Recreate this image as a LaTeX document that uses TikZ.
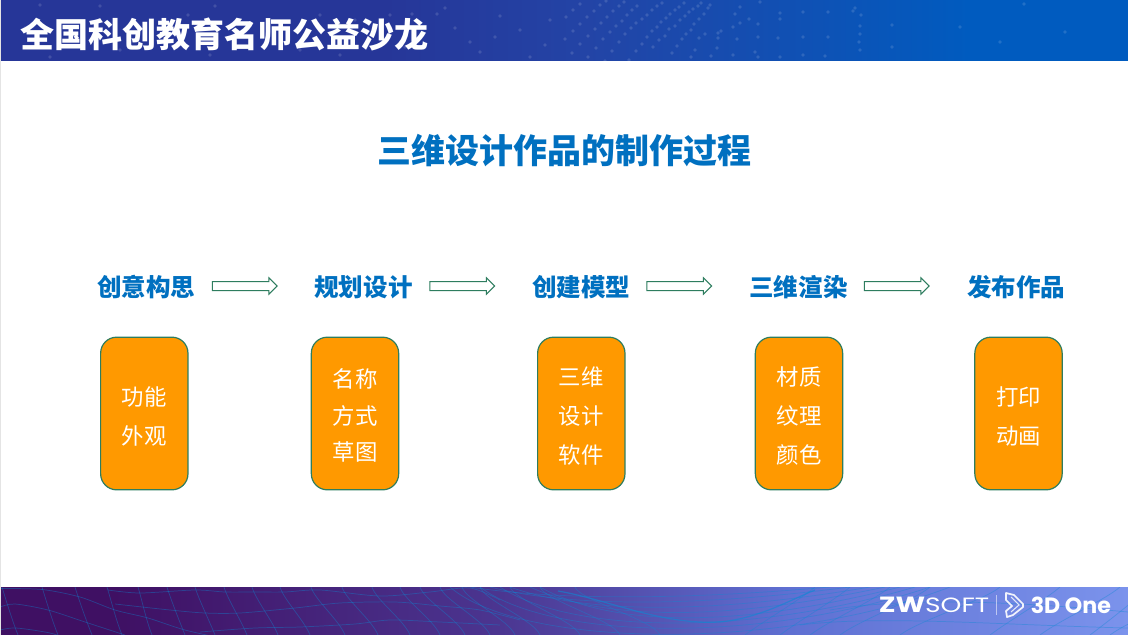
\documentclass[tikz,border=0pt]{standalone}
\usepackage{fontspec}
\usetikzlibrary{shapes.arrows}
\setmainfont{Noto Sans CJK SC}
\newfontfamily\logofont[FakeStretch=1.28]{Poppins}
\newfontfamily\logofontb{Poppins}
\definecolor{hdrA}{HTML}{263698}
\definecolor{hdrB}{HTML}{2344A6}
\definecolor{hdrC}{HTML}{005BBF}
\definecolor{ftA}{HTML}{3F1063}
\definecolor{ftB}{HTML}{4B3590}
\definecolor{ftD}{HTML}{5F70D2}
\definecolor{ftC}{HTML}{7B93EC}
\definecolor{ttl}{HTML}{0070C0}
\definecolor{edge}{HTML}{2E7D5F}
\definecolor{org}{HTML}{FF9900}
\definecolor{sideg}{HTML}{E4E4E4}
\pgfdeclarehorizontalshading{hdrshade}{100bp}{
  color(0bp)=(hdrA); color(42bp)=(hdrA); color(51bp)=(hdrB); color(68bp)=(hdrC); color(100bp)=(hdrC)}
\pgfdeclarehorizontalshading{ftshade}{100bp}{
  color(0bp)=(ftA); color(30bp)=(ftA); color(47bp)=(ftB); color(60bp)=(ftD); color(75bp)=(ftC); color(100bp)=(ftC)}
\tikzset{
  x=0.75pt,y=-0.75pt,
  hdrtitle/.style={font=\bfseries\fontsize{25.5}{30}\selectfont,text=white,inner sep=0pt},
  maintitle/.style={font=\bfseries\fontsize{25.5}{30}\selectfont,text=ttl,inner sep=0pt},
  steplabel/.style={font=\bfseries\fontsize{18.4}{22}\selectfont,text=ttl,inner sep=0pt},
  cardbox/.style={draw=edge,line width=0.9pt,fill=org,rounded corners=12pt,
    minimum width=65.5pt,minimum height=114.5pt,inner sep=0pt},
  cardtext/.style={text=white,inner sep=0pt,align=center},
  looseb/.style={cardtext,font=\fontsize{16.8}{29.3}\selectfont},
  tightb/.style={cardtext,font=\fontsize{16.8}{27.4}\selectfont},
  blockarrow/.style={single arrow,draw=edge,line width=0.75pt,fill=white,inner sep=3pt,
    minimum height=48.5pt,minimum width=11.5pt,single arrow head extend=2.7pt,
    single arrow tip angle=90,single arrow head indent=0pt},
  dot/.style={fill=white,fill opacity=0.13},
  mesh/.style={draw=cyan!70!blue,line width=0.55pt,draw opacity=0.38},
}
\begin{document}
\begin{tikzpicture}
\useasboundingbox (0,0) rectangle (1128,635);
\fill[white] (0,0) rectangle (1128,635);
\fill[sideg] (0,0) rectangle (1,635);
\fill[sideg] (0,0) rectangle (1128,1);
% header
\shade[shading=hdrshade] (1,1) rectangle (1128,61);
\begin{scope}
\clip (1,1) rectangle (1128,61);
\foreach \a/\b in {580/4,573/10,566/17,580/24,573/31,565/39,580/44,572/53,588/57,605/61,
587/17,594/11,600/5,606/1,607/17,601/23,595/29,588/36,596/48,603/39,610/32,616/26,622/21,627/15,632/10,637/6,
613/11,619/6,624/2,612/51,619/42,625/34,631/28,636/23,642/19,647/15,652/10,657/6,662/3,
629/60,636/51,642/44,647/37,652/31,657/27,661/22,666/18,670/14,675/10,679/7,684/3,
653/47,659/40,665/36,669/29,675/26,680/20,685/16,689/12,693/9,698/6,701/3,
672/53,677/46,682/39,686/34,691/30,694/24,699/19,704/14,708/8,710/5,
691/57,695/50,699/38,705/34,721/31,733/27,740/23,740/7,760/2,
711/56,717/48,718/38,718/33,737/39,749/19,758/57,758/37,758/24,
733/55,735/14,755/52,780/57,778/38,780/19,780/13,
803/12,803/55,803/37,825/56,828/37,828/12,
853/11,855/8,860/34,860/26,860/50,859/42,861/15,892/25,892/47,
960/27,1000/42,1024/4,1065/32,
100/6,40/5,37/20,215/6,188/15,320/15,355/20,390/15,412/14,437/14,455/28,500/16,520/30,470/42,495/37,445/8,
300/50,50/57,25/28,120/50,210/55,340/55,405/47,480/52,530/57,550/20,545/45}
  {\fill[dot] (\a,\b) circle (1.8);}
\end{scope}
\node[hdrtitle,anchor=west] (hdr) at (20,34) {全国科创教育名师公益沙龙};
% footer
\shade[shading=ftshade] (1,587) rectangle (1128,635);
\begin{scope}
\clip (1,587) rectangle (1128,635);
\draw[mesh] plot[smooth] coordinates {(0,588.5) (42,589.5) (80,597) (115,610) (148,618) (185,630) (230,640)};
\draw[mesh] plot[smooth] coordinates {(0,607) (15,604) (48,610) (85,622) (125,635)};
\draw[mesh] plot[smooth] coordinates {(0,630) (16,628) (50,633) (70,640)};
\draw[mesh] plot[smooth] coordinates {(108,590) (140,593) (195,590) (225,592) (255,592) (285,592) (320,590) (380,596) (430,592) (470,588) (500,600)};
\draw[mesh] plot[smooth] coordinates {(115,604) (170,610) (205,613) (240,613) (295,608) (340,603) (395,602) (440,606) (480,610) (520,620)};
\draw[mesh] plot[smooth] coordinates {(200,632) (255,628) (300,627) (355,624) (390,620) (440,622) (500,625)};
\foreach \t/\b in {2/18,42/58,75/92,107/122,138/152,167/185,195/215,224/247,252/278,280/310,311/345,342/378,372/410,400/440,420/465,440/490,462/515,480/540,510/580,540/620,575/660}
  {\draw[mesh] (\t,587) .. controls (\t+4,600) and (\b-6,620) .. (\b,635);}
\foreach \s/\d/\e in {470/590/830,490/597/850,510/604/870,530/611/885,540/618/900,500/625/915,480/632/930,450/640/950}
  {\draw[mesh] (\s,587) .. controls (\s+70,\d+8) and (\e-170,\d+12) .. (\e,587);}
\draw[mesh,draw opacity=0.6,line width=0.9pt] (558,591) .. controls (610,600) and (660,625) .. (720,622) .. controls (760,618) and (790,600) .. (815,590);
\draw[mesh] (830,610) .. controls (900,598) and (1000,600) .. (1128,612);
\draw[mesh] (800,625) .. controls (880,615) and (1000,625) .. (1128,628);
\foreach \t/\b in {815/745,850/780,890/810,930/840,1000/900,1060/990,1120/1040,1150/1090,1200/1110}
  {\draw[mesh] (\t,587) .. controls (\t-15,600) and (\b+20,620) .. (\b,635);}
\end{scope}
% logo
\node[anchor=west,inner sep=0pt,text=white] (zw) at (878.5,605)
  {\logofont\fontsize{16.5}{18}\selectfont\textbf{ZW}\fontsize{15.5}{18}\selectfont SOFT};
\node[fill=white,fill opacity=0.55,minimum width=0.6pt,minimum height=15pt,inner sep=0pt] (bar) at (996.5,605) {};
\draw[white,opacity=0.9,line width=1.3pt,line join=round]
  (1006,593) -- (1014,595) -- (1023,604) -- (1023,607) -- (1013,615) -- (1007,617) -- (1006,611) -- (1012,606) -- (1006,600) -- cycle;
\draw[white,opacity=0.8,line width=0.8pt] (1011,597) -- (1019,605) -- (1011,612);
\node[anchor=west,inner sep=0pt,text=white] (one) at (1030.5,605)
  {\logofontb\fontsize{16.6}{18}\selectfont\textbf{3D One}};
% title
\node[maintitle] (main) at (564.5,151) {三维设计作品的制作过程};
% step labels
\node[steplabel] (s1) at (146.3,287) {创意构思};
\node[steplabel] (s2) at (363.5,287) {规划设计};
\node[steplabel] (s3) at (581.3,287) {创建模型};
\node[steplabel] (s4) at (798.5,287) {三维渲染};
\node[steplabel] (s5) at (1016.3,287) {发布作品};
% arrows
\node[blockarrow] (a1) at (242.5,286) {};
\node[blockarrow] (a2) at (460,286) {};
\node[blockarrow] (a3) at (677,286) {};
\node[blockarrow] (a4) at (894.5,286) {};
% cards
\node[cardbox] (c1) at (144.3,413.5) {};
\node[cardbox] (c2) at (355,413.5) {};
\node[cardbox] (c3) at (581.3,413.5) {};
\node[cardbox] (c4) at (799,413.5) {};
\node[cardbox] (c5) at (1018.5,413.5) {};
\node[looseb] (t1) at ([yshift=-2.2pt]c1.center) {功能\\外观};
\node[tightb] (t2) at ([yshift=-1.7pt]c2.center) {名称\\方式\\草图};
\node[looseb] (t3) at ([yshift=-2.2pt]c3.center) {三维\\设计\\软件};
\node[looseb] (t4) at ([yshift=-2.2pt]c4.center) {材质\\纹理\\颜色};
\node[looseb] (t5) at ([yshift=-2.2pt]c5.center) {打印\\动画};
\end{tikzpicture}
\end{document}
